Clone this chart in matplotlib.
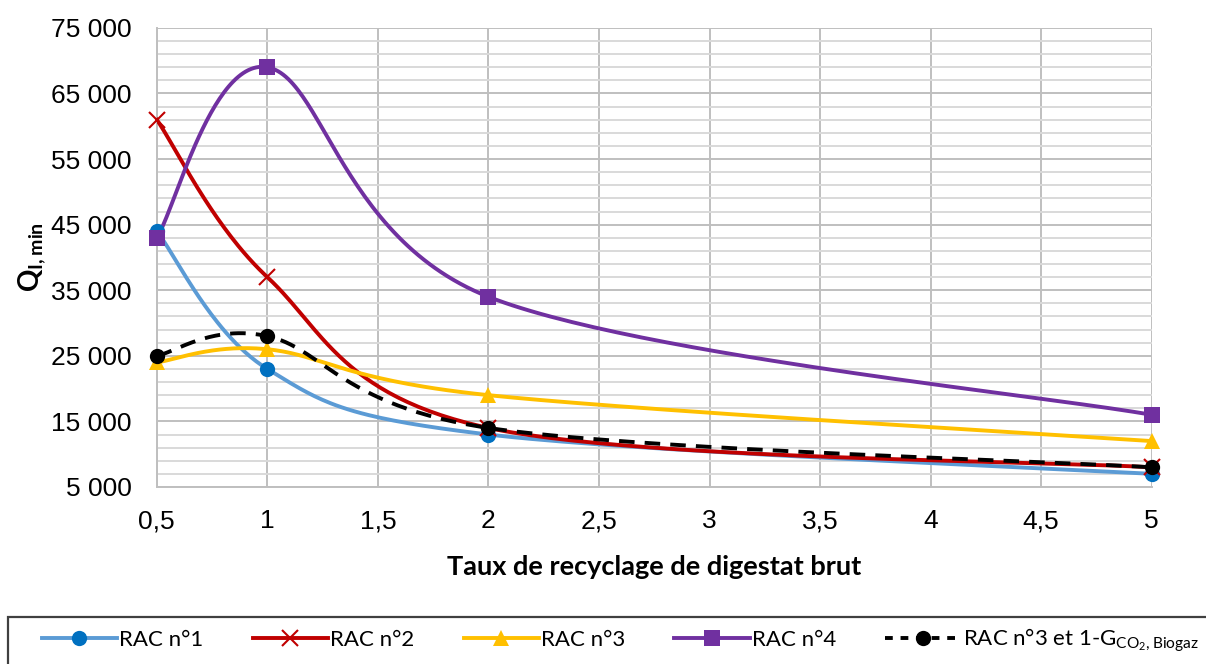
import numpy as np
import matplotlib
matplotlib.use('Agg')
import matplotlib.pyplot as plt
from matplotlib.ticker import FuncFormatter, MultipleLocator, FixedLocator
from matplotlib.patches import Rectangle

# Données
taux = [0.5, 1, 2, 5]
rac1 = [44000, 23000, 13000, 7000]
rac2 = [61000, 37000, 14000, 8000]
rac3 = [24000, 26000, 19000, 12000]
rac4 = [43000, 69000, 34000, 16000]
rac3_g = [25000, 28000, 14000, 8000]

noms = ['RAC n°1', 'RAC n°2', 'RAC n°3', 'RAC n°4',
        r'RAC n°3 et 1-G$_{\mathregular{CO_2,Biogaz}}$']


def lissage(x, y, n=60):
    # Lissage type Excel (Catmull-Rom / Bezier)
    x = np.asarray(x, float)
    y = np.asarray(y, float)
    px = np.concatenate([[x[0]], x, [x[-1]]])
    py = np.concatenate([[y[0]], y, [y[-1]]])
    xs, ys = [], []
    t = np.linspace(0, 1, n)
    for i in range(1, len(px) - 2):
        p0 = np.array([px[i], py[i]])
        p3 = np.array([px[i + 1], py[i + 1]])
        p1 = p0 + (np.array([px[i + 1], py[i + 1]]) - np.array([px[i - 1], py[i - 1]])) / 6
        p2 = p3 - (np.array([px[i + 2], py[i + 2]]) - np.array([px[i], py[i]])) / 6
        b = ((1 - t) ** 3)[:, None] * p0 + (3 * (1 - t) ** 2 * t)[:, None] * p1 \
            + (3 * (1 - t) * t ** 2)[:, None] * p2 + (t ** 3)[:, None] * p3
        xs.extend(b[:, 0])
        ys.extend(b[:, 1])
    return np.array(xs), np.array(ys)


plt.rcParams['font.family'] = ['Lato', 'DejaVu Sans']
plt.rcParams['mathtext.default'] = 'regular'

fig = plt.figure(figsize=(12.06, 6.64), dpi=100)
ax = fig.add_axes([0.130, 0.2666, 0.825, 0.6914])

series = [
    (rac1, '#5B9BD5', '#0070C0', 'o', '-', 11),
    (rac2, '#C00000', '#C00000', 'x', '-', 12),
    (rac3, '#FFC000', '#FFC000', '^', '-', 12),
    (rac4, '#7030A0', '#7030A0', 's', '-', 11),
    (rac3_g, 'black', 'black', 'o', (0, (4, 2.6)), 11),
]

handles = []
for (vals, lc, mc, mk, ls, ms), nom in zip(series, noms):
    xs, ys = lissage(taux, vals)
    ax.plot(xs, ys, color=lc, lw=2.8, ls=ls, zorder=3)
    ax.plot(taux, vals, ls='none', marker=mk, color=mc, ms=ms,
            mew=1.5 if mk == 'x' else 0, zorder=4, clip_on=False)
    h, = ax.plot([], [], color=lc, lw=2.8, ls=(0, (2, 2)) if ls != '-' else ls,
                 marker=mk, ms=ms, mfc=mc, mec=mc, mew=1.5 if mk == 'x' else 0)
    handles.append(h)

ax.set_xlim(0.5, 5)
ax.set_ylim(5000, 75000)
ax.xaxis.set_major_locator(MultipleLocator(0.5))
ax.yaxis.set_major_locator(FixedLocator(np.arange(5000, 75001, 10000)))
ax.yaxis.set_minor_locator(FixedLocator(np.arange(5000, 75001, 2000)))
ax.xaxis.set_major_formatter(FuncFormatter(lambda v, p: ('%g' % v).replace('.', ',')))
ax.yaxis.set_major_formatter(FuncFormatter(lambda v, p: '{:,.0f}'.format(v).replace(',', ' ')))

ax.grid(which='major', color='#BFBFBF', lw=1.4)
ax.grid(which='minor', axis='y', color='#D9D9D9', lw=1.4)
ax.set_axisbelow(True)
for s in ['top', 'right']:
    ax.spines[s].set_visible(False)
for s in ['left', 'bottom']:
    ax.spines[s].set_color('#BFBFBF')
    ax.spines[s].set_linewidth(1.4)
ax.tick_params(which='both', length=0)
ax.tick_params(axis='y', labelsize=19, pad=18)
ax.tick_params(axis='x', labelsize=19, pad=16)
for lab in ax.get_xticklabels() + ax.get_yticklabels():
    lab.set_family('Liberation Sans')

ax.set_xlabel('Taux de recyclage de digestat brut', fontsize=19.5, fontweight='bold', labelpad=16)
ax.set_ylabel(r'Q$_{I,min}$', fontsize=20, fontweight='bold', labelpad=2)

# Cadre de la légende
fig.patches.append(Rectangle((8 / 1206, -0.05), 1.0, 1 - 617 / 664 + 0.05,
                             transform=fig.transFigure, fill=False,
                             edgecolor='#404040', lw=1.6))
leg = fig.legend(handles, noms, loc='center left', bbox_to_anchor=(0.018, 0.5 * (1 - 617 / 664)),
                 ncol=5, fontsize=16, frameon=False,
                 handlelength=3.4, handletextpad=0.1, columnspacing=2.2)

fig.savefig('out.png', dpi=100)
